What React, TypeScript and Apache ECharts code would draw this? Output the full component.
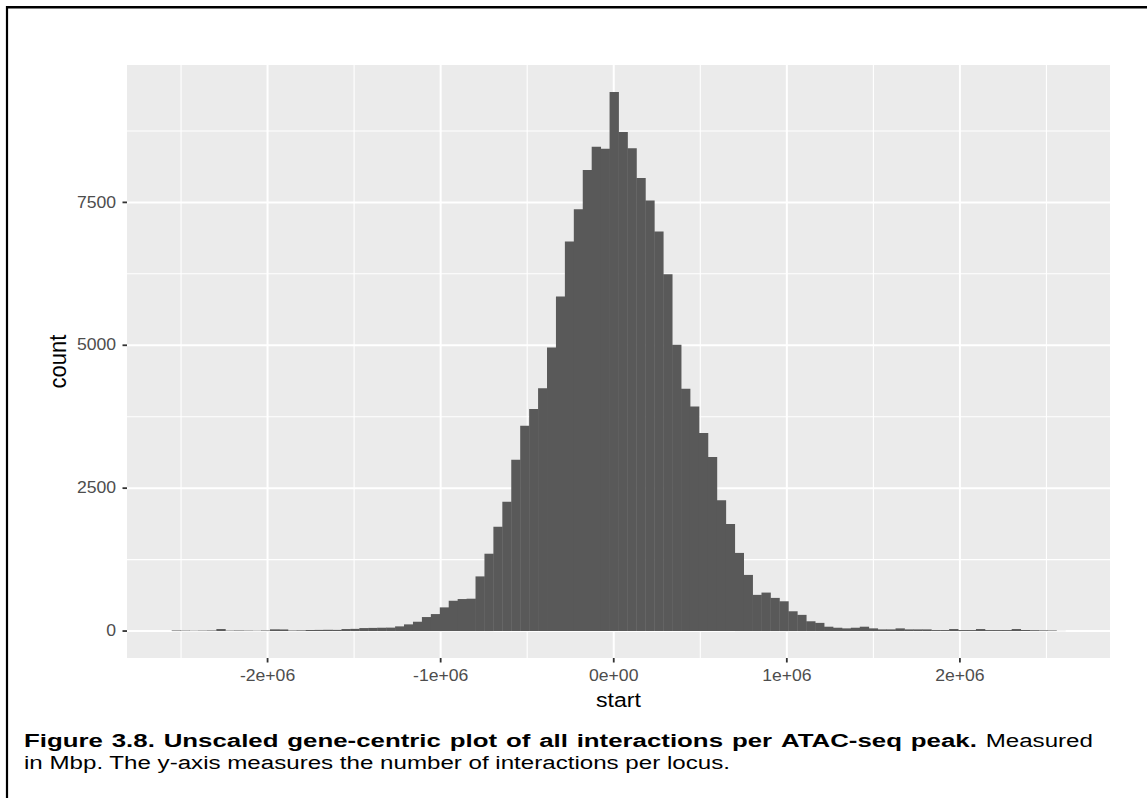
import React, { useEffect, useRef } from "react";
import * as echarts from "echarts";

// Histogram of interaction start positions relative to the peak (100 bins)
const BIN_START = -2554000;
const BIN_WIDTH = 51630;
const COUNTS = [
  10, 8, 6, 8, 10, 35, 8, 10, 8, 6,
  10, 30, 28, 10, 12, 18, 20, 22, 20, 35,
  38, 52, 55, 58, 60, 82, 117, 163, 245, 297,
  414, 530, 560, 566, 956, 1353, 1825, 2262, 2997, 3591,
  3883, 4250, 4960, 5853, 6814, 7380, 8067, 8475, 8440, 9432,
  8730, 8446, 7927, 7531, 6989, 6244, 5008, 4239, 3930, 3464,
  3045, 2287, 1874, 1367, 982, 633, 673, 580, 521, 346,
  283, 171, 143, 76, 58, 47, 58, 76, 47, 29,
  29, 47, 29, 29, 29, 17, 17, 35, 17, 17,
  35, 17, 17, 17, 35, 17, 15, 12, 10, 2,
];

const X_BREAKS = [-2e6, -1e6, 0, 1e6, 2e6];
const X_MINOR_BREAKS = [-2.5e6, -1.5e6, -0.5e6, 0.5e6, 1.5e6, 2.5e6];
const X_LABELS = ["-2e+06", "-1e+06", "0e+00", "1e+06", "2e+06"];
const Y_BREAKS = [0, 2500, 5000, 7500];
const Y_MINOR_BREAKS = [1250, 3750, 6250, 8750];
const Y_LABELS = ["0", "2500", "5000", "7500"];

const X_TITLE = "start";
const Y_TITLE = "count";
const CAPTION_BOLD = "Figure 3.8. Unscaled gene-centric plot of all interactions per ATAC-seq peak.";
const CAPTION_TAIL = "Measured";
const CAPTION_LINE2 = "in Mbp. The y-axis measures the number of interactions per locus.";

const FONT = '"Liberation Sans", Arial, Helvetica, sans-serif';
const SX = 1.1; // horizontal stretch of chart text
const CAP_SX_BOLD = 1.36; // horizontal stretch of caption text
const CAP_SX_REG = 1.27;

export default function App() {
  const ref = useRef<HTMLDivElement>(null);

  useEffect(() => {
    if (!ref.current) return;
    const chart = echarts.init(ref.current, undefined, { renderer: "svg" });

    const lo = BIN_START;
    const hi = BIN_START + COUNTS.length * BIN_WIDTH;
    const xPad = 0.05 * (hi - lo);
    const yMax = Math.max(...COUNTS);
    const yPad = 0.05 * yMax;

    const bins = COUNTS.map((c, i) => [
      BIN_START + i * BIN_WIDTH,
      BIN_START + (i + 1) * BIN_WIDTH,
      c,
    ]);

    // caption layout (first line justified)
    const ctx = document.createElement("canvas").getContext("2d")!;
    const measure = (s: string, weight: string, size: number) => {
      ctx.font = `${weight} ${size}px ${FONT}`;
      return ctx.measureText(s).width;
    };
    const capSize = 19;
    const capLeft = 24;
    const capRight = 1093;
    const words = [
      ...CAPTION_BOLD.split(" ").map((w) => ({ w, bold: true })),
      { w: CAPTION_TAIL, bold: false },
    ];
    const widths = words.map((o) =>
      o.bold
        ? measure(o.w, "bold", capSize) * CAP_SX_BOLD
        : measure(o.w, "normal", capSize) * CAP_SX_REG
    );
    const total = widths.reduce((a, b) => a + b, 0);
    const gap = (capRight - capLeft - total) / (words.length - 1);
    let cx = capLeft;
    const captionEls: any[] = words.map((o, i) => {
      const el = {
        type: "text",
        x: cx,
        y: 740,
        scaleX: o.bold ? CAP_SX_BOLD : CAP_SX_REG,
        style: {
          text: o.w,
          fill: "#000",
          fontSize: capSize,
          fontWeight: o.bold ? "bold" : "normal",
          fontFamily: FONT,
          align: "left",
          verticalAlign: "middle",
        },
      };
      cx += widths[i] + gap;
      return el;
    });
    captionEls.push({
      type: "text",
      x: capLeft,
      y: 762.5,
      scaleX: CAP_SX_REG,
      style: {
        text: CAPTION_LINE2,
        fill: "#000",
        fontSize: capSize,
        fontFamily: FONT,
        align: "left",
        verticalAlign: "middle",
      },
    });

    const gridLineData = [
      ...X_MINOR_BREAKS.map((v) => [v, 0, 0, 0]),
      ...X_BREAKS.map((v) => [v, 0, 1, 0]),
      ...Y_MINOR_BREAKS.map((v) => [0, v, 0, 1]),
      ...Y_BREAKS.map((v) => [0, v, 1, 1]),
    ];

    const option: any = {
      animation: false,
      grid: {
        left: 127,
        top: 65,
        width: 983,
        height: 593,
        show: true,
        backgroundColor: "#EBEBEB",
        borderWidth: 0,
      },
      xAxis: {
        type: "value",
        min: lo - xPad,
        max: hi + xPad,
        axisLine: { show: false },
        axisTick: { show: false },
        axisLabel: { show: false },
        splitLine: { show: false },
      },
      yAxis: {
        type: "value",
        min: -yPad,
        max: yMax + yPad,
        axisLine: { show: false },
        axisTick: { show: false },
        axisLabel: { show: false },
        splitLine: { show: false },
      },
      series: [
        {
          type: "custom",
          name: "grid",
          silent: true,
          z: 1,
          clip: true,
          data: gridLineData,
          encode: { x: 0, y: 1 },
          renderItem: (params: any, api: any) => {
            const cs = params.coordSys;
            const major = api.value(2) === 1;
            const style = { stroke: "#FFFFFF", lineWidth: major ? 2 : 1.1 };
            if (api.value(3) === 0) {
              const x = api.coord([api.value(0), 0])[0];
              return {
                type: "line",
                shape: { x1: x, y1: cs.y, x2: x, y2: cs.y + cs.height },
                style,
              };
            }
            const y = api.coord([0, api.value(1)])[1];
            return {
              type: "line",
              shape: { x1: cs.x, y1: y, x2: cs.x + cs.width, y2: y },
              style,
            };
          },
        },
        {
          type: "custom",
          name: "count",
          silent: true,
          z: 2,
          clip: true,
          data: bins,
          encode: { x: [0, 1], y: 2 },
          renderItem: (params: any, api: any) => {
            const p0 = api.coord([api.value(0), api.value(2)]);
            const p1 = api.coord([api.value(1), 0]);
            return {
              type: "rect",
              shape: {
                x: p0[0],
                y: p0[1],
                width: p1[0] - p0[0] + 0.4,
                height: p1[1] - p0[1],
              },
              style: { fill: "#595959" },
            };
          },
        },
        {
          type: "custom",
          name: "xTicks",
          silent: true,
          z: 3,
          clip: false,
          data: X_BREAKS.map((v) => [v, 0]),
          encode: { x: 0, y: 1 },
          renderItem: (params: any, api: any) => {
            const cs = params.coordSys;
            const x = api.coord([api.value(0), 0])[0];
            const yb = cs.y + cs.height;
            return {
              type: "group",
              children: [
                {
                  type: "line",
                  shape: { x1: x, y1: yb, x2: x, y2: yb + 4.5 },
                  style: { stroke: "#333333", lineWidth: 1.8 },
                },
                {
                  type: "text",
                  x,
                  y: yb + 17.5,
                  scaleX: SX,
                  style: {
                    text: X_LABELS[params.dataIndex],
                    fill: "#4D4D4D",
                    fontSize: 16,
                    fontFamily: FONT,
                    align: "center",
                    verticalAlign: "middle",
                  },
                },
              ],
            };
          },
        },
        {
          type: "custom",
          name: "yTicks",
          silent: true,
          z: 3,
          clip: false,
          data: Y_BREAKS.map((v) => [0, v]),
          encode: { x: 0, y: 1 },
          renderItem: (params: any, api: any) => {
            const cs = params.coordSys;
            const y = api.coord([0, api.value(1)])[1];
            return {
              type: "group",
              children: [
                {
                  type: "line",
                  shape: { x1: cs.x - 4.5, y1: y, x2: cs.x, y2: y },
                  style: { stroke: "#333333", lineWidth: 1.8 },
                },
                {
                  type: "text",
                  x: cs.x - 11,
                  y,
                  scaleX: SX,
                  style: {
                    text: Y_LABELS[params.dataIndex],
                    fill: "#4D4D4D",
                    fontSize: 16,
                    fontFamily: FONT,
                    align: "right",
                    verticalAlign: "middle",
                  },
                },
              ],
            };
          },
        },
      ],
      graphic: [
        // figure frame
        {
          type: "line",
          silent: true,
          shape: { x1: 7, y1: 7.3, x2: 1147, y2: 7.3 },
          style: { stroke: "#000", lineWidth: 2.5 },
        },
        {
          type: "line",
          silent: true,
          shape: { x1: 7, y1: 6, x2: 7, y2: 798 },
          style: { stroke: "#000", lineWidth: 2.2 },
        },
        {
          type: "text",
          x: 618.5,
          y: 700,
          scaleX: SX,
          style: {
            text: X_TITLE,
            fill: "#000",
            fontSize: 21,
            fontFamily: FONT,
            align: "center",
            verticalAlign: "middle",
          },
        },
        {
          type: "text",
          x: 57.5,
          y: 361.5,
          rotation: Math.PI / 2,
          scaleY: SX,
          style: {
            text: Y_TITLE,
            fill: "#000",
            fontSize: 22,
            fontFamily: FONT,
            align: "center",
            verticalAlign: "middle",
          },
        },
        ...captionEls,
      ],
    };

    chart.setOption(option);
    return () => chart.dispose();
  }, []);

  return (
    <div
      ref={ref}
      style={{
        position: "absolute",
        left: 0,
        top: 0,
        width: 1147,
        height: 798,
        background: "#fff",
      }}
    />
  );
}
